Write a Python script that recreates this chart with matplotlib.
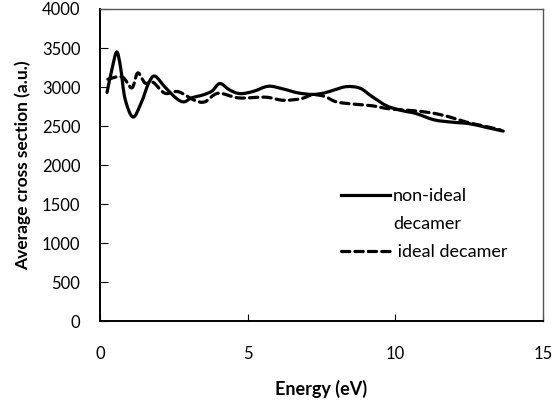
import matplotlib
matplotlib.use("Agg")
import matplotlib.pyplot as plt
import numpy as np
from matplotlib.path import Path
from matplotlib.patches import PathPatch
from matplotlib.lines import Line2D

plt.rcParams['font.family'] = ['Lato', 'DejaVu Sans']

# cross sections read per energy (eV)
energy_nonideal = [0.24, 0.42, 0.57, 0.70, 0.85, 1.12, 1.40, 1.65, 1.86, 2.2, 2.6, 2.85,
                   3.1, 3.5, 3.8, 4.06, 4.4, 4.75, 5.2, 5.7, 6.2, 6.7, 7.2, 7.6, 7.95,
                   8.35, 8.8, 9.2, 9.7, 10.2, 10.7, 11.3, 11.9, 12.5, 13.1, 13.65]
cs_nonideal = [2930, 3250, 3450, 3250, 2850, 2615, 2800, 3050, 3140, 3000, 2850, 2810,
               2860, 2900, 2950, 3045, 2960, 2915, 2945, 3010, 2975, 2925, 2905, 2925, 2965,
               3005, 2985, 2880, 2760, 2700, 2660, 2580, 2550, 2530, 2480, 2435]

energy_ideal = [0.27, 0.75, 1.08, 1.28, 1.53, 1.8, 2.2, 2.65, 3.2, 3.55, 4.0, 4.7,
                5.6, 6.2, 6.8, 7.2, 7.6, 8.0, 8.6, 9.2, 9.8, 10.5, 11.2, 11.8,
                12.4, 13.0, 13.55]
cs_ideal = [3100, 3130, 2990, 3180, 3050, 3060, 2920, 2940, 2830, 2810, 2920, 2860,
            2870, 2830, 2850, 2900, 2880, 2810, 2780, 2760, 2720, 2700, 2670, 2620,
            2550, 2500, 2450]

labels = ["non-ideal", "decamer", " ideal decamer"]


def smooth_path(x, y):
    # Catmull-Rom through the points, written as cubic Bezier segments
    p = np.column_stack([x, y]).astype(float)
    n = len(p)
    verts = [p[0]]
    codes = [Path.MOVETO]
    for i in range(n - 1):
        p0 = p[i - 1] if i > 0 else p[i]
        p3 = p[i + 2] if i + 2 < n else p[i + 1]
        c1 = p[i] + (p[i + 1] - p0) / 6.0
        c2 = p[i + 1] - (p3 - p[i]) / 6.0
        verts += [c1, c2, p[i + 1]]
        codes += [Path.CURVE4] * 3
    return Path(verts, codes)


fig = plt.figure(figsize=(5.52, 4.09), dpi=100)
ax = fig.add_axes([0.181, 0.215, 0.803, 0.763])

lw = 2.3
dash = (0, (2.6, 1.6))
solid = PathPatch(smooth_path(energy_nonideal, cs_nonideal), fill=False,
                  edgecolor='black', lw=lw, capstyle='round', joinstyle='round')
dashed = PathPatch(smooth_path(energy_ideal, cs_ideal), fill=False,
                   edgecolor='black', lw=lw, linestyle=dash, capstyle='round')
ax.add_patch(dashed)
ax.add_patch(solid)

ax.set_xlim(0, 15)
ax.set_ylim(0, 4000)
ax.set_xticks([0, 5, 10, 15])
ax.set_yticks(np.arange(0, 4001, 500))
ax.tick_params(axis='both', direction='in', labelsize=12, colors='black')
ax.tick_params(axis='x', length=5, pad=18)
ax.tick_params(axis='y', length=6, pad=14)
for s in ['left', 'bottom']:
    ax.spines[s].set_linewidth(1.4)
    ax.spines[s].set_color('black')
for s in ['top', 'right']:
    ax.spines[s].set_linewidth(1.0)
    ax.spines[s].set_color('#555555')

ax.set_xlabel('Energy (eV)', fontsize=13, fontweight='bold', labelpad=13)
ax.set_ylabel('Average cross section (a.u.)', fontsize=12.5, fontweight='bold', labelpad=8)

handles = [Line2D([], [], color='black', lw=lw),
           Line2D([], [], color='none'),
           Line2D([], [], color='black', lw=lw, linestyle=dash, dash_capstyle='round')]
ax.legend(handles, labels, loc='upper left', bbox_to_anchor=(0.545, 0.425),
          frameon=False, fontsize=13, handlelength=2.7, handletextpad=0.15,
          labelspacing=0.65, borderpad=0, borderaxespad=0)

fig.savefig('out.png', dpi=100)
